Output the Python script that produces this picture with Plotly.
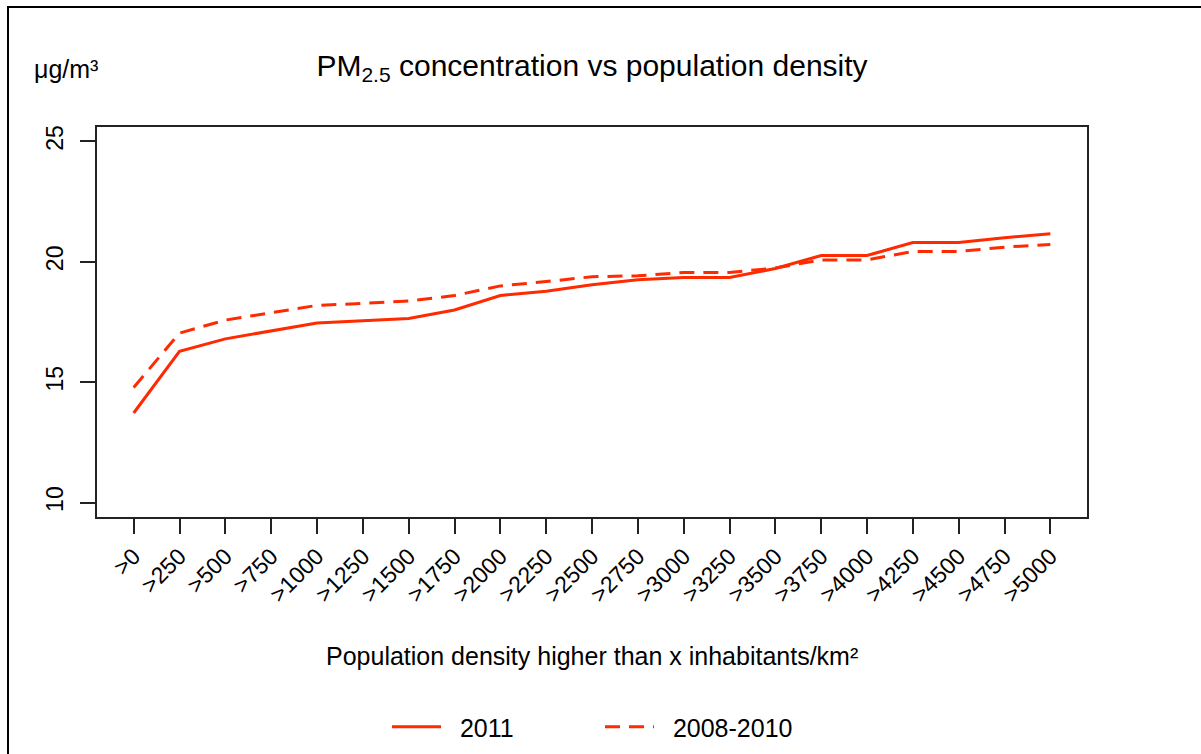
import plotly.graph_objects as go

# Density thresholds (inhabitants/km²) shown on the x axis
categories = [">0", ">250", ">500", ">750", ">1000", ">1250", ">1500", ">1750",
              ">2000", ">2250", ">2500", ">2750", ">3000", ">3250", ">3500",
              ">3750", ">4000", ">4250", ">4500", ">4750", ">5000"]

# Mean PM2.5 concentration (µg/m³) above each density threshold
pm_2011 = [13.72, 16.28, 16.80, 17.14, 17.46, 17.55, 17.65, 18.00, 18.60, 18.78,
           19.05, 19.25, 19.35, 19.35, 19.72, 20.26, 20.26, 20.80, 20.80, 21.00, 21.17]
pm_2008_2010 = [14.78, 17.04, 17.58, 17.90, 18.19, 18.27, 18.37, 18.60, 19.00, 19.18,
                19.38, 19.42, 19.56, 19.56, 19.74, 20.08, 20.08, 20.43, 20.43, 20.61, 20.72]

y_ticks = [10, 15, 20, 25]

RED = "#ff2a00"
FONT = "Liberation Sans, Arial, sans-serif"
NBSP = "\u00a0"
x_idx = list(range(len(categories)))

fig = go.Figure()
fig.add_trace(go.Scatter(x=x_idx, y=pm_2011, mode="lines", name=NBSP * 2 + "2011",
                         line=dict(color=RED, width=3)))
fig.add_trace(go.Scatter(x=x_idx, y=pm_2008_2010, mode="lines", name=NBSP * 2 + "2008-2010",
                         line=dict(color=RED, width=3, dash="15px,9px")))

axis_common = dict(showline=True, linecolor="#222", linewidth=1.5, mirror=True,
                   ticks="outside", ticklen=15, tickwidth=1.5, tickcolor="#222",
                   showgrid=False, zeroline=False, automargin=False,
                   tickfont=dict(family=FONT, size=23, color="black"))

fig.update_layout(
    width=1201, height=754,
    margin=dict(l=97, r=114, t=127, b=237, autoexpand=False),
    paper_bgcolor="white", plot_bgcolor="white",
    font=dict(family=FONT, size=25, color="black"),
    title=dict(text="PM<sub>2.5</sub> concentration vs population density",
               x=592 / 1201, xanchor="center", xref="container",
               y=1 - 65 / 754, yanchor="middle", yref="container",
               font=dict(family=FONT, size=30, color="black")),
    xaxis=dict(range=[-0.8, 20.8], tickmode="array", tickvals=x_idx,
               ticktext=categories, tickangle=-45, **axis_common),
    yaxis=dict(range=[9.4, 25.6], tickmode="array", tickvals=y_ticks,
               ticktext=[str(v) for v in y_ticks], tickangle=-90,
               ticklabelstandoff=8, **axis_common),
    legend=dict(orientation="h", x=(387 - 97) / 990, xanchor="left",
                y=1 - 727 / 754, yref="container", yanchor="middle",
                itemwidth=49, entrywidth=149,
                font=dict(family=FONT, size=25, color="black"),
                bgcolor="rgba(0,0,0,0)"),
    annotations=[
        dict(text="μg/m³", xref="paper", yref="paper", x=(32 - 97) / 990, y=(517 - 69) / 390,
             xanchor="left", yanchor="middle", showarrow=False,
             font=dict(family=FONT, size=25, color="black")),
        dict(text="Population density higher than x inhabitants/km²", xref="paper", yref="paper",
             x=0.5, y=(517 - 656) / 390, xanchor="center", yanchor="middle", showarrow=False,
             font=dict(family=FONT, size=25, color="black")),
    ],
    shapes=[
        dict(type="line", xref="paper", yref="paper", x0=(8 - 97) / 990, x1=(1201 - 97) / 990,
             y0=(517 - 7) / 390, y1=(517 - 7) / 390, line=dict(color="black", width=2)),
        dict(type="line", xref="paper", yref="paper", x0=(8 - 97) / 990, x1=(8 - 97) / 990,
             y0=(517 - 6) / 390, y1=(517 - 760) / 390, line=dict(color="black", width=2)),
    ],
)

fig.write_html("out.html")
